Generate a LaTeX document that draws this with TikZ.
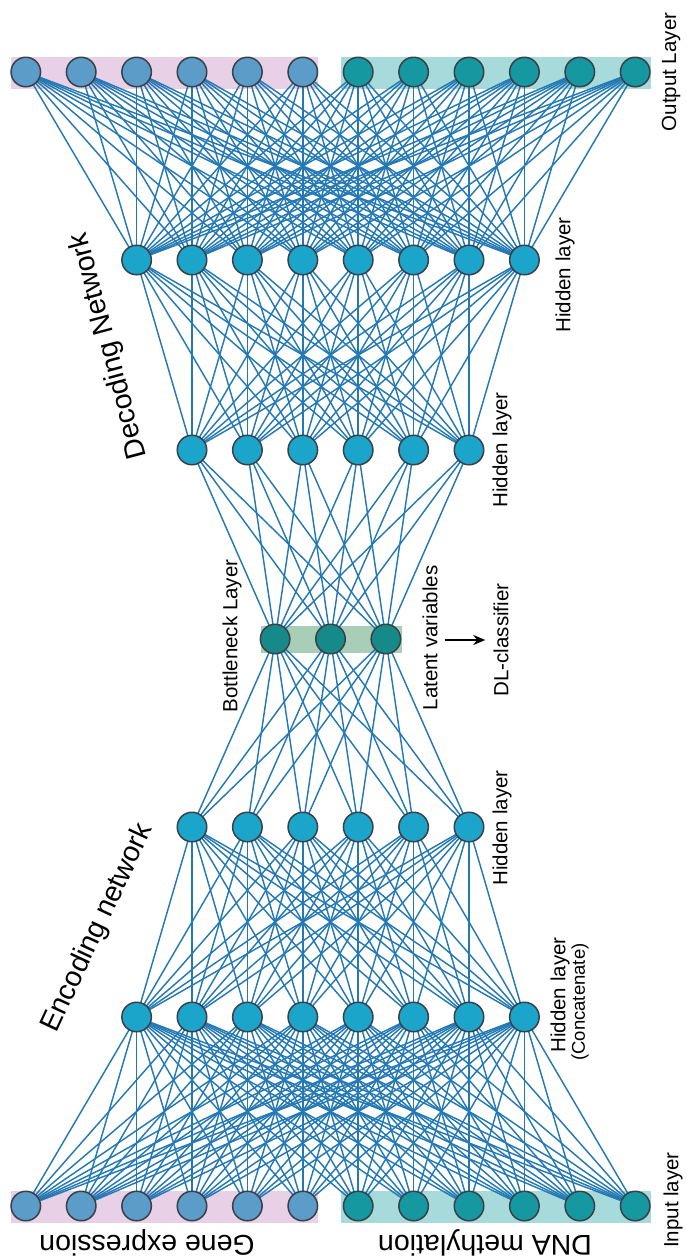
\documentclass[tikz,border=0pt]{standalone}
\usepackage{fontspec}
\setmainfont{Liberation Sans}
\usetikzlibrary{arrows.meta}
\pgfdeclarelayer{bg}
\pgfdeclarelayer{edges}
\pgfsetlayers{bg,edges,main}
\definecolor{genecol}{HTML}{5B9CC8}
\definecolor{methcol}{HTML}{15989F}
\definecolor{hidcol}{HTML}{1BA5CB}
\definecolor{botcol}{HTML}{158A88}
\definecolor{bordercol}{HTML}{3B3F48}
\definecolor{pinkbg}{HTML}{E8D0E6}
\definecolor{tealbg}{HTML}{A7DADA}
\definecolor{botbg}{HTML}{A9CEB8}
\definecolor{edgeblue}{HTML}{2479B4}
\tikzset{
  neuron/.style={circle, draw=bordercol, line width=1.5pt, minimum size=29.5pt, inner sep=0pt},
  gnode/.style={neuron, fill=genecol},
  mnode/.style={neuron, fill=methcol},
  hnode/.style={neuron, fill=hidcol},
  bnode/.style={neuron, fill=botcol},
  edge/.style={draw=edgeblue, line width=1.45pt},
  lbl/.style={font=\fontsize{20.5}{24}\selectfont, rotate=90, inner sep=0pt},
  smalllbl/.style={font=\fontsize{18.5}{21}\selectfont, rotate=90, inner sep=0pt},
  biglbl/.style={font=\fontsize{28.5}{32}\selectfont, inner sep=0pt},
  pointer/.style={-{Stealth[length=12pt,width=10pt]}, line width=2pt, black}
}
\begin{document}
\begin{tikzpicture}[x=1pt,y=-1pt]
\useasboundingbox (0,0) rectangle (686,1259);
% output layer
\foreach \i in {1,...,6} \node[gnode] (o\i) at ({330.5+55.4*(\i-6.5)},72) {};
\foreach \i in {7,...,12} \node[mnode] (o\i) at ({330.5+55.4*(\i-6.5)},72) {};
% decoder hidden (8)
\foreach \i in {1,...,8} \node[hnode] (d2\i) at ({330.5+55.4*(\i-4.5)},260) {};
% decoder hidden (6)
\foreach \i in {1,...,6} \node[hnode] (d1\i) at ({330.5+55.4*(\i-3.5)},450) {};
% bottleneck
\foreach \i in {1,...,3} \node[bnode] (b\i) at ({330.5+55.4*(\i-2)},639) {};
% encoder hidden (6)
\foreach \i in {1,...,6} \node[hnode] (e1\i) at ({330.5+55.4*(\i-3.5)},827) {};
% encoder hidden concat (8)
\foreach \i in {1,...,8} \node[hnode] (e2\i) at ({330.5+55.4*(\i-4.5)},1017) {};
% input layer
\foreach \i in {1,...,6} \node[gnode] (in\i) at ({330.5+55.4*(\i-6.5)},1206) {};
\foreach \i in {7,...,12} \node[mnode] (in\i) at ({330.5+55.4*(\i-6.5)},1206) {};

\begin{pgfonlayer}{bg}
  \fill[pinkbg] (11,56.5) rectangle (318,88.5);
  \fill[tealbg] (341,56.5) rectangle (651,88.5);
  \fill[pinkbg] (11,1190.5) rectangle (318,1222.5);
  \fill[tealbg] (341,1190.5) rectangle (651,1222.5);
  \fill[botbg] (261,626) rectangle (402,653);
\end{pgfonlayer}

\begin{pgfonlayer}{edges}
  \foreach \i in {1,...,12} \foreach \j in {1,...,8} {
    \draw[edge] (o\i.center) -- (d2\j.center);
    \draw[edge] (in\i.center) -- (e2\j.center);
  }
  \foreach \i in {1,...,8} \foreach \j in {1,...,6} {
    \draw[edge] (d2\i.center) -- (d1\j.center);
    \draw[edge] (e2\i.center) -- (e1\j.center);
  }
  \foreach \i in {1,...,6} \foreach \j in {1,...,3} {
    \draw[edge] (d1\i.center) -- (b\j.center);
    \draw[edge] (e1\i.center) -- (b\j.center);
  }
\end{pgfonlayer}

% labels
\node[lbl] (outl) at (671,72) {Output Layer};
\node[lbl] (inl) at (673,1200) {Input layer};
\node[lbl] (hd2) at (565,275) {Hidden layer};
\node[lbl] (hd1) at (502,450) {Hidden layer};
\node[lbl] (he1) at (502,828) {Hidden layer};
\node[lbl] (he2) at (560,995) {Hidden layer};
\node[smalllbl] (he2c) at (580,1002) {(Concatenate)};
\node[lbl] (bl) at (232,636) {Bottleneck Layer};
\node[lbl] (lat) at (430,638) {Latent variables};
\node[lbl] (dl) at (501,640) {DL-classifier};
\draw[pointer, shorten <=7pt, shorten >=8pt] (lat.south |- dl.north) -- (dl.north);

\node[biglbl, rotate=65] (enc) at (98,928) {Encoding network};
\node[biglbl, rotate=105] (dec) at (109,346) {Decoding Network};
\node[biglbl, rotate=180] (gene) at (147,1243) {Gene expression};
\node[biglbl, rotate=180] (dna) at (485,1243) {DNA methylation};
\end{tikzpicture}
\end{document}
